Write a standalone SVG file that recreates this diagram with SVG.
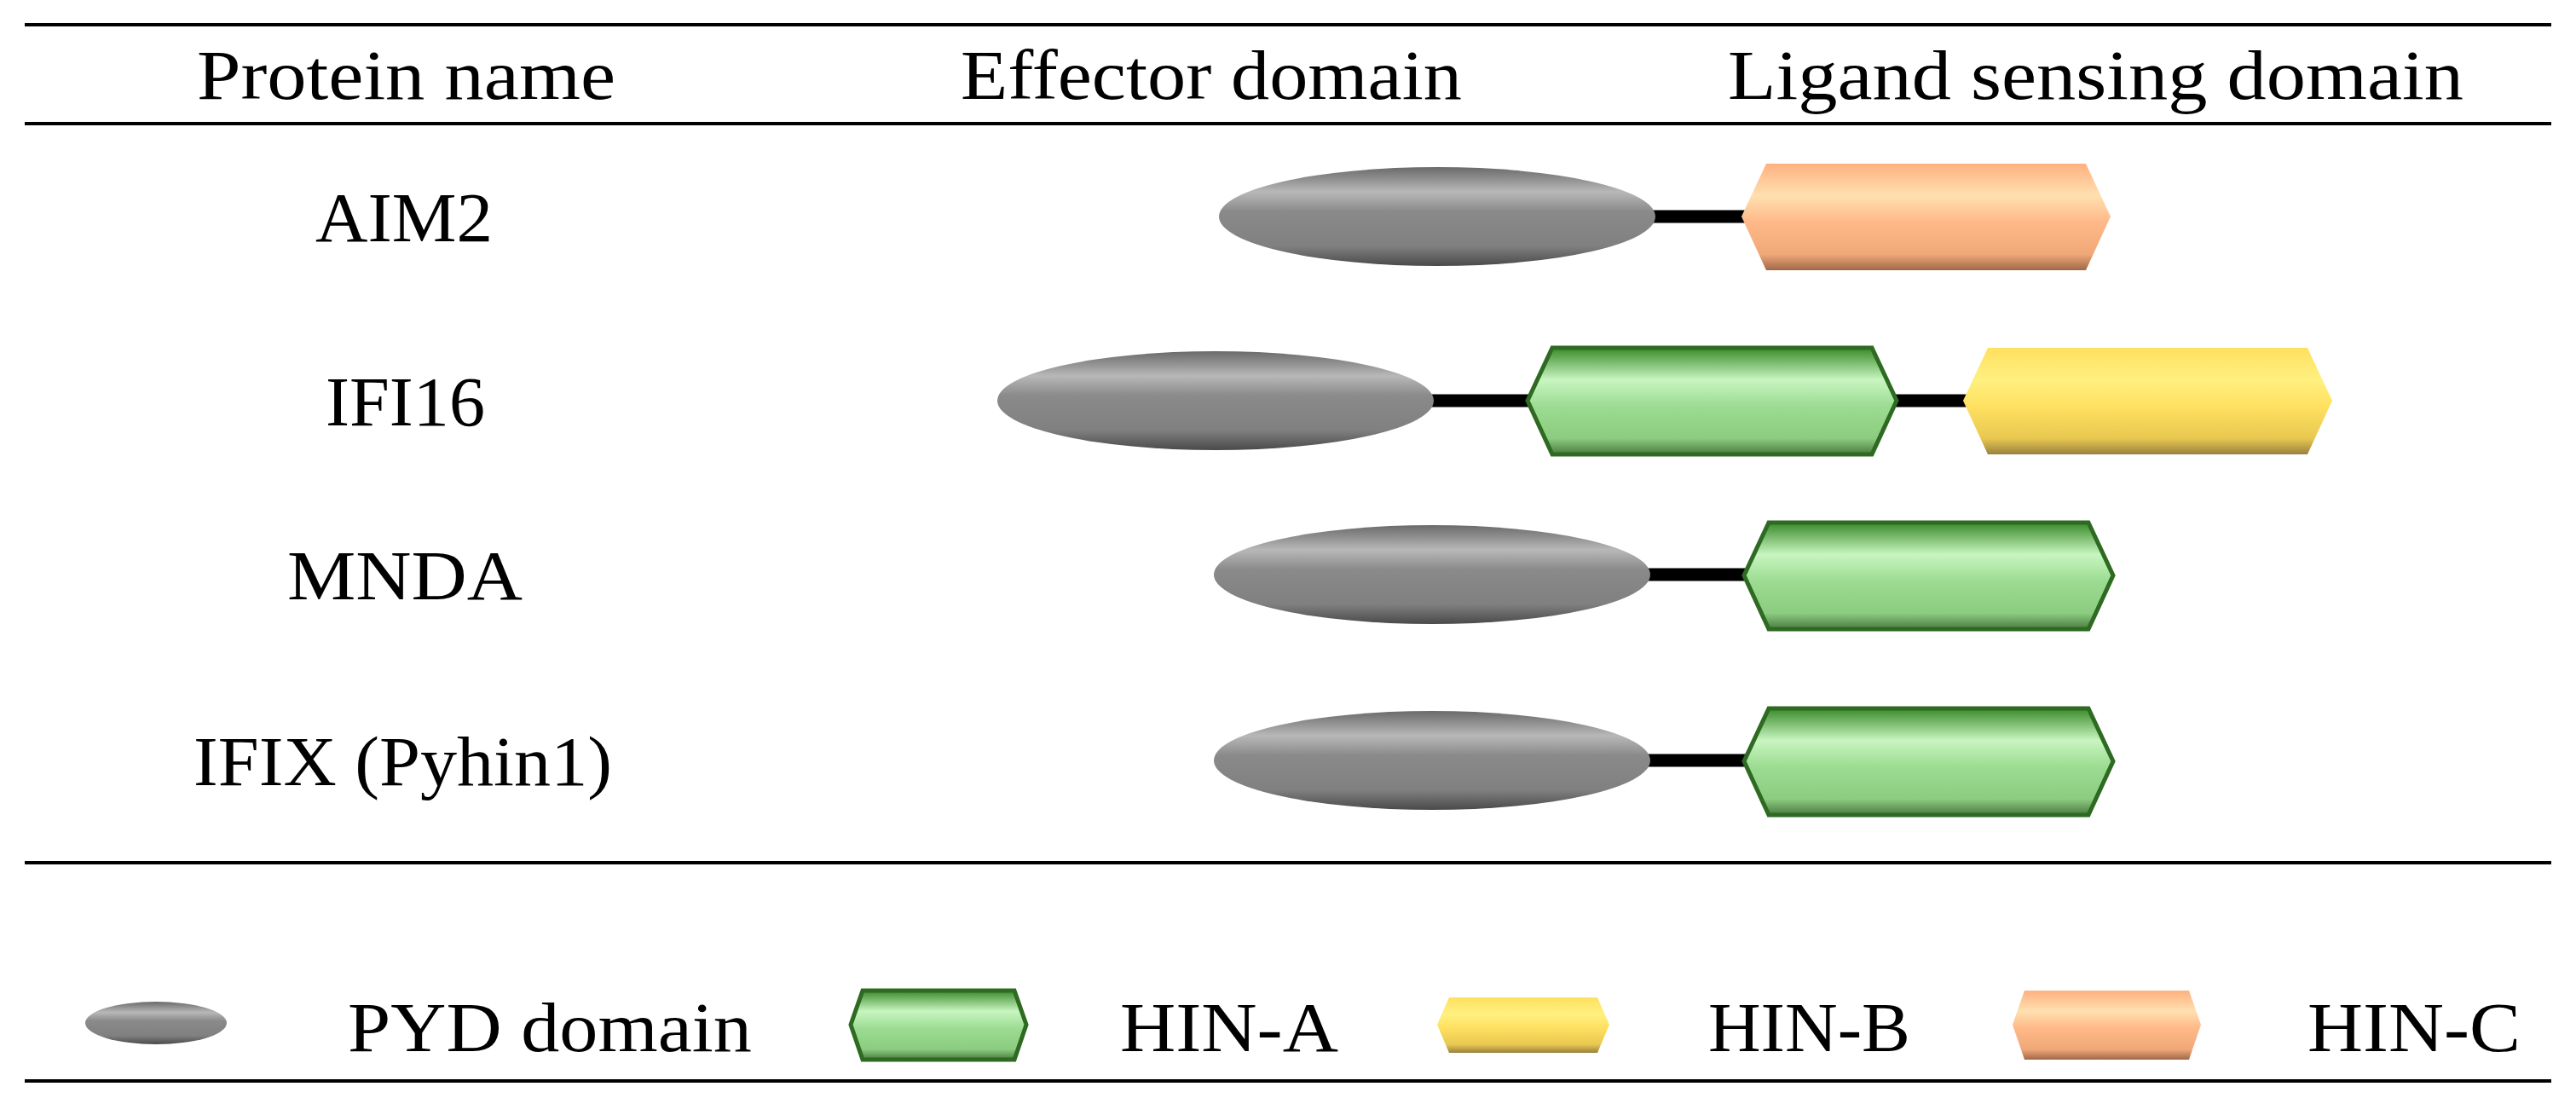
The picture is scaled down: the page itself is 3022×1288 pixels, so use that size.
<svg xmlns="http://www.w3.org/2000/svg" width="3022" height="1288" viewBox="0 0 3022 1288">
<style>
text{font-family:"Liberation Serif","DejaVu Serif",serif;font-size:82px;fill:#000}
.l{stroke:#000;stroke-width:4}
.lk{stroke:#000;stroke-width:15}
</style>
<defs>
<linearGradient id="gg" x1="0" y1="0" x2="0" y2="1">
<stop offset="0" stop-color="#6a6a6a"/><stop offset="0.25" stop-color="#b8b8b8"/><stop offset="0.45" stop-color="#8a8a8a"/><stop offset="0.8" stop-color="#808080"/><stop offset="1" stop-color="#4a4a4a"/>
</linearGradient>
<linearGradient id="ga" x1="0" y1="0" x2="0" y2="1">
<stop offset="0" stop-color="#3a8a2a"/><stop offset="0.3" stop-color="#c8f5c0"/><stop offset="0.55" stop-color="#9cdc92"/><stop offset="0.85" stop-color="#8ccc80"/><stop offset="1" stop-color="#4a7a40"/>
</linearGradient>
<linearGradient id="gb" x1="0" y1="0" x2="0" y2="1">
<stop offset="0" stop-color="#ffe060"/><stop offset="0.3" stop-color="#fff080"/><stop offset="0.55" stop-color="#ffe060"/><stop offset="0.85" stop-color="#e8c850"/><stop offset="1" stop-color="#9a8040"/>
</linearGradient>
<linearGradient id="gc" x1="0" y1="0" x2="0" y2="1">
<stop offset="0" stop-color="#ffb080"/><stop offset="0.3" stop-color="#ffe0b0"/><stop offset="0.55" stop-color="#ffb888"/><stop offset="0.85" stop-color="#f0a878"/><stop offset="1" stop-color="#a06848"/>
</linearGradient>
<path id="hx" d="M29,0 H404 L433,62 L404,125 H29 L0,62 Z"/>
</defs>
<g id="rules">
<line class="l" x1="29" y1="29" x2="2993" y2="29"/>
<line class="l" x1="29" y1="145" x2="2993" y2="145"/>
<line class="l" x1="29" y1="1012" x2="2993" y2="1012"/>
<line class="l" x1="29" y1="1268" x2="2993" y2="1268"/>
</g>
<g id="header">
<text x="231" y="116" textLength="491" lengthAdjust="spacingAndGlyphs">Protein name</text>
<text x="1127" y="116" textLength="588" lengthAdjust="spacingAndGlyphs">Effector domain</text>
<text x="2027" y="116" textLength="863" lengthAdjust="spacingAndGlyphs">Ligand sensing domain</text>
</g>
<g id="connectors">
<line class="lk" x1="1930" y1="254" x2="2050" y2="254"/>
<line class="lk" x1="1670" y1="470" x2="1800" y2="470"/>
<line class="lk" x1="2220" y1="470" x2="2310" y2="470"/>
<line class="lk" x1="1925" y1="674" x2="2050" y2="674"/>
<line class="lk" x1="1925" y1="892" x2="2050" y2="892"/>
</g>
<g id="aim2">
<text x="370" y="283" textLength="208" lengthAdjust="spacingAndGlyphs">AIM2</text>
<ellipse cx="1686" cy="254" rx="256" ry="58" fill="url(#gg)"/>
<use href="#hx" x="2043" y="192" fill="url(#gc)"/>
</g>
<g id="ifi16">
<text x="382" y="499" textLength="187" lengthAdjust="spacingAndGlyphs">IFI16</text>
<ellipse cx="1426" cy="470" rx="256" ry="58" fill="url(#gg)"/>
<use href="#hx" x="1792" y="408" fill="url(#ga)" stroke="#2e6a22" stroke-width="5"/>
<use href="#hx" x="2303" y="408" fill="url(#gb)"/>
</g>
<g id="mnda">
<text x="337" y="703" textLength="276" lengthAdjust="spacingAndGlyphs">MNDA</text>
<ellipse cx="1680" cy="674" rx="256" ry="58" fill="url(#gg)"/>
<use href="#hx" x="2046" y="613" fill="url(#ga)" stroke="#2e6a22" stroke-width="5"/>
</g>
<g id="ifix">
<text x="227" y="921" textLength="491" lengthAdjust="spacingAndGlyphs">IFIX (Pyhin1)</text>
<ellipse cx="1680" cy="892" rx="256" ry="58" fill="url(#gg)"/>
<use href="#hx" x="2046" y="831" fill="url(#ga)" stroke="#2e6a22" stroke-width="5"/>
</g>
<g id="legend">
<ellipse cx="183" cy="1200" rx="83" ry="25" fill="url(#gg)"/>
<text x="408" y="1233" textLength="474" lengthAdjust="spacingAndGlyphs">PYD domain</text>
<path d="M1012,1162 H1190 L1204,1202 L1190,1243 H1012 L998,1202 Z" fill="url(#ga)" stroke="#2e6a22" stroke-width="5"/>
<text x="1314" y="1233" textLength="256" lengthAdjust="spacingAndGlyphs">HIN-A</text>
<path d="M1700,1170 H1874 L1888,1202 L1874,1235 H1700 L1686,1202 Z" fill="url(#gb)"/>
<text x="2004" y="1233" textLength="237" lengthAdjust="spacingAndGlyphs">HIN-B</text>
<path d="M2375,1162 H2568 L2582,1202 L2568,1243 H2375 L2361,1202 Z" fill="url(#gc)"/>
<text x="2707" y="1233" textLength="250" lengthAdjust="spacingAndGlyphs">HIN-C</text>
</g>
</svg>
